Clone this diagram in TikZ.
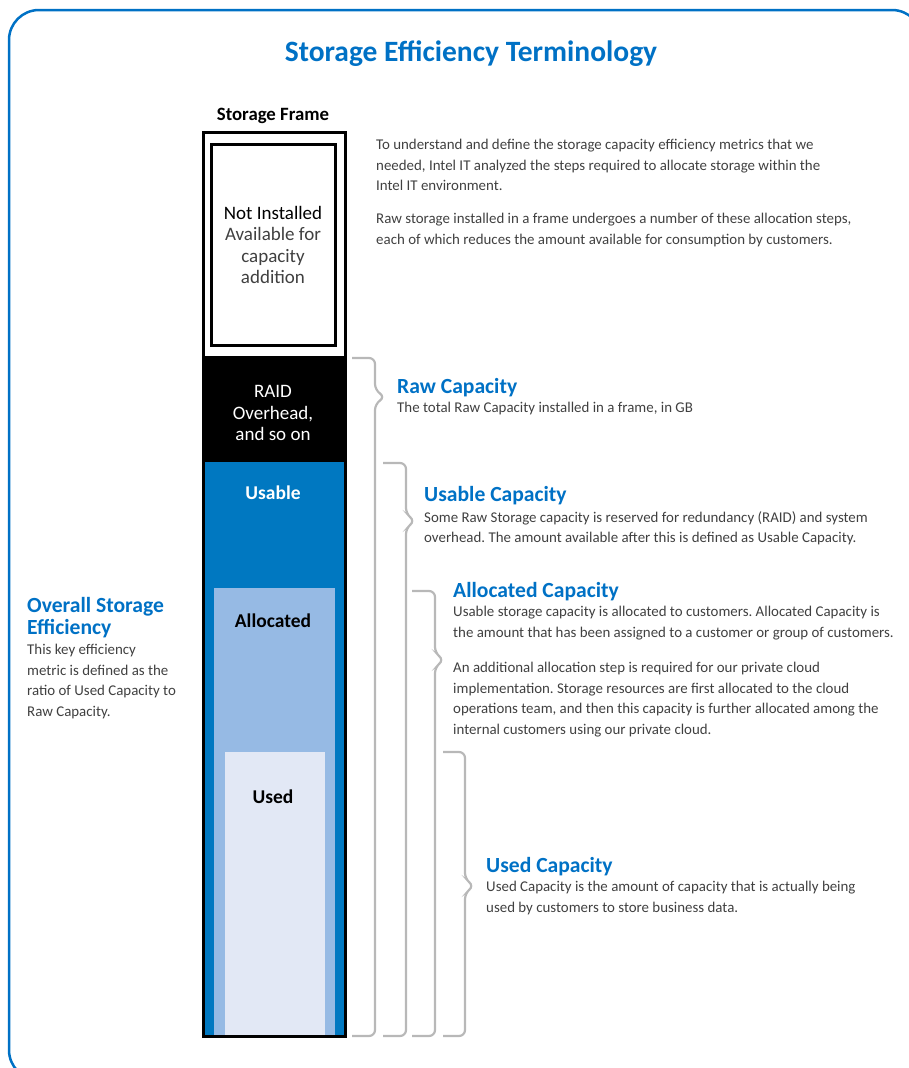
\documentclass[tikz,border=0pt]{standalone}
\usepackage{fontspec}
\setmainfont{Carlito}
\frenchspacing
\definecolor{intelblue}{HTML}{0071C5}
\definecolor{usablefill}{HTML}{0078C1}
\definecolor{allocfill}{HTML}{96BAE4}
\definecolor{usedfill}{HTML}{E2E8F5}
\definecolor{bracegray}{HTML}{B8B8B8}
\definecolor{bodygray}{HTML}{404040}
\begin{document}
\begin{tikzpicture}[x=1pt,y=-1pt,
  capbrace/.style={draw=bracegray, line width=2.2, rounded corners=6},
  bodytext/.style={anchor=north west, inner sep=0, align=left, text=bodygray, font=\fontsize{14.9}{20.5}\selectfont},
  headtext/.style={anchor=north west, inner sep=0, align=left, text=intelblue, font=\fontsize{21.6}{22}\selectfont\bfseries},
  framelabel/.style={inner sep=0, align=center, font=\fontsize{19}{21.5}\selectfont}]
\useasboundingbox (0,0) rectangle (909,1068);
\begin{scope}
  \clip (0,0) rectangle (909,1068);
  \draw[intelblue, line width=2.5, rounded corners=30] (9,10) rectangle (922,1080);
\end{scope}

\node[inner sep=0, text=intelblue, font=\fontsize{29.5}{32}\selectfont\bfseries] (title) at (471,54) {Storage Efficiency Terminology};

% storage frame
\node[inner sep=0, font=\fontsize{18.8}{20}\selectfont\bfseries] (framelbl) at (273,116) {Storage Frame};
\fill[white] (203.5,132.5) rectangle (345.5,1036.5);
\draw[line width=3] (211.5,144.5) rectangle (335.5,345.5);
\fill[black] (202,356) rectangle (347,461.5);
\fill[usablefill] (205,461.5) rectangle (344,1035);
\fill[allocfill] (214,588) rectangle (335,1035);
\fill[usedfill] (225,751.5) rectangle (325,1035);
\draw[line width=3] (203.5,132.5) rectangle (345.5,1036.5);

\node[framelabel] (notinst) at (273,245) {Not Installed\\{\color{bodygray}Available for}\\{\color{bodygray}capacity}\\{\color{bodygray}addition}};
\node[framelabel, text=white] (raid) at (273,413) {RAID\\Overhead,\\and so on};
\node[framelabel, text=white, font=\fontsize{19.5}{20}\selectfont\bfseries] (usable) at (273,493) {Usable};
\node[framelabel, font=\fontsize{19.5}{20}\selectfont\bfseries] (alloc) at (273,621) {Allocated};
\node[framelabel, font=\fontsize{19.5}{20}\selectfont\bfseries] (used) at (273,797) {Used};

% braces
\draw[capbrace] (352,358) -- (375,358) -- (375,390) -- (385,397) -- (375,404) -- (375,1036) -- (352,1036);
\draw[capbrace] (383,463) -- (406,463) -- (406,514) -- (415,521) -- (406,528) -- (406,1036) -- (383,1036);
\draw[capbrace] (412,591) -- (435,591) -- (435,653) -- (444,660) -- (435,667) -- (435,1036) -- (412,1036);
\draw[capbrace] (443,752) -- (465,752) -- (465,879) -- (474,886) -- (465,893) -- (465,1036) -- (443,1036);

% texts
\node[bodytext] (intro) at (376,139) {To understand and define the storage capacity efficiency metrics that we\\needed, Intel IT analyzed the steps required to allocate storage within the\\Intel IT environment.};
\node[bodytext] (intro2) at (376,213) {Raw storage installed in a frame undergoes a number of these allocation steps,\\each of which reduces the amount available for consumption by customers.};

\node[headtext] (rawh) at (397,378) {Raw Capacity};
\node[bodytext] (rawb) at (397,402) {The total Raw Capacity installed in a frame, in GB};

\node[headtext] (usableh) at (424,486) {Usable Capacity};
\node[bodytext] (usableb) at (424,511) {Some Raw Storage capacity is reserved for redundancy (RAID) and system\\overhead. The amount available after this is defined as Usable Capacity.};

\node[headtext] (alloch) at (453,582) {Allocated Capacity};
\node[bodytext] (allocb) at (453,606) {Usable storage capacity is allocated to customers. Allocated Capacity is\\the amount that has been assigned to a customer or group of customers.};
\node[bodytext] (allocb2) at (453,662) {An additional allocation step is required for our private cloud\\implementation. Storage resources are first allocated to the cloud\\operations team, and then this capacity is further allocated among the\\internal customers using our private cloud.};

\node[headtext] (usedh) at (486,857) {Used Capacity};
\node[bodytext] (usedb) at (486,881) {Used Capacity is the amount of capacity that is actually being\\used by customers to store business data.};

\node[headtext] (overallh) at (27,597) {Overall Storage\\Efficiency};
\node[bodytext] (overallb) at (27,644) {This key efficiency\\metric is defined as the\\ratio of Used Capacity to\\Raw Capacity.};
\end{tikzpicture}
\end{document}
